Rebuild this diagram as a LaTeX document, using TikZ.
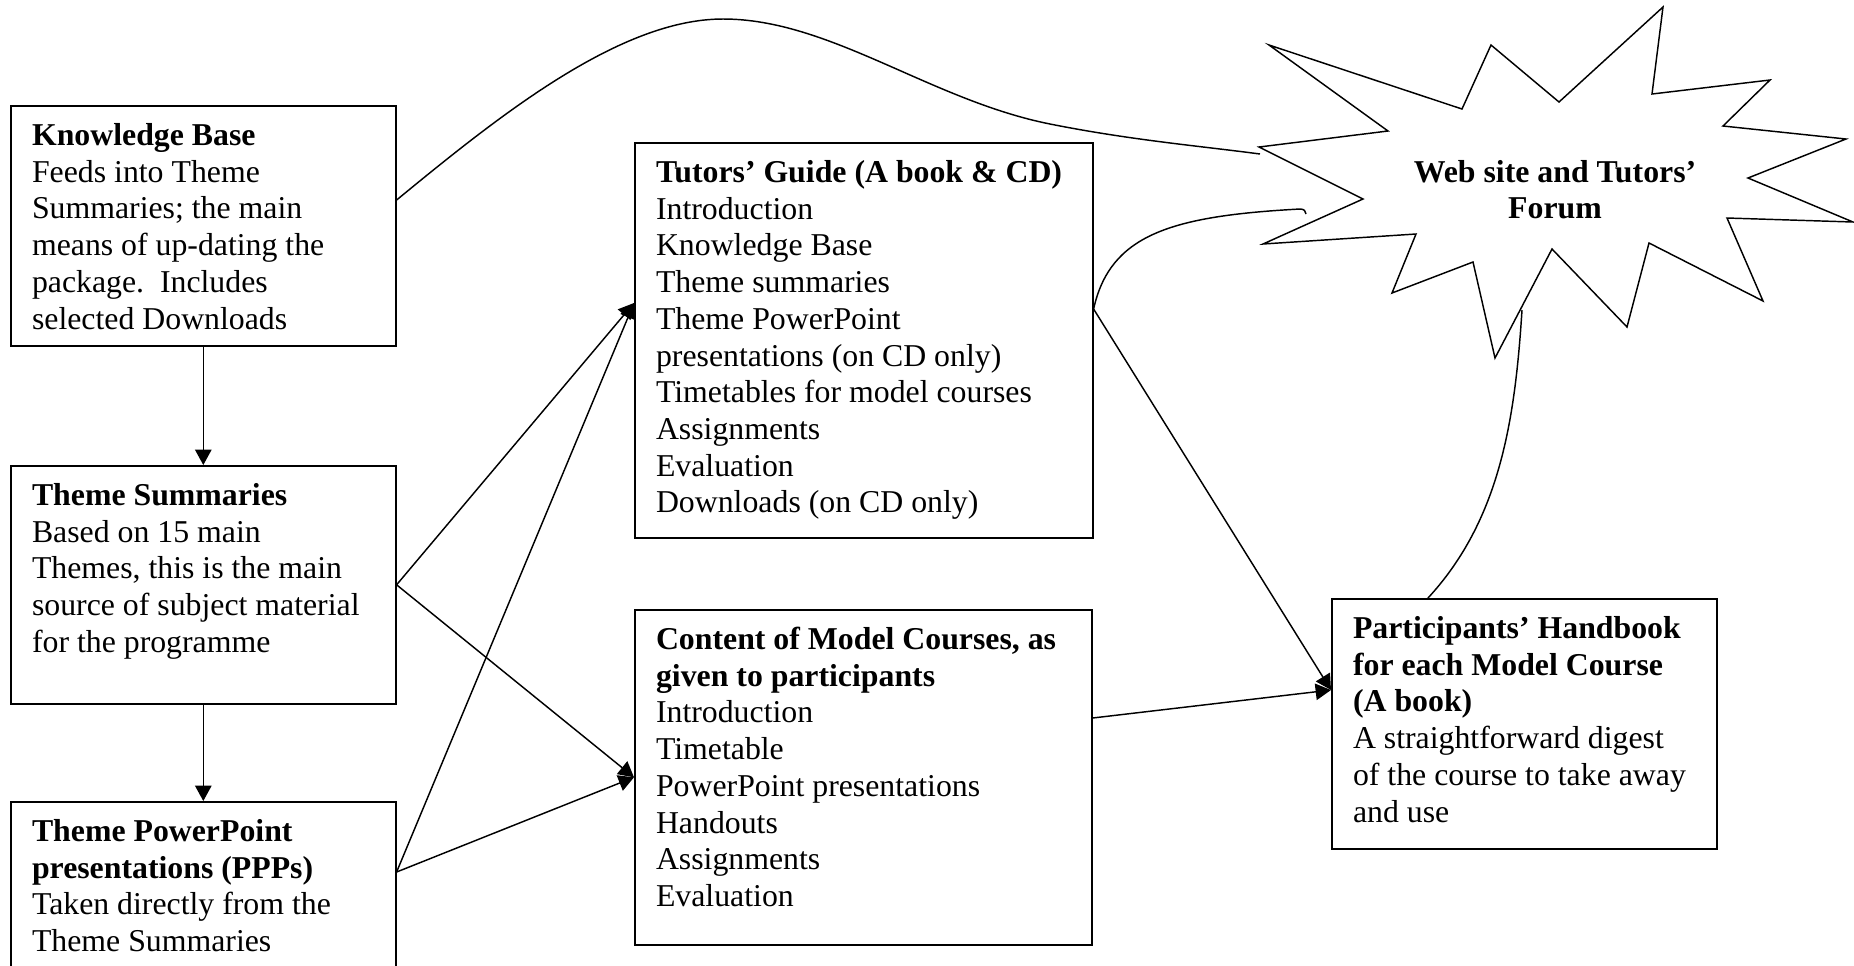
\documentclass[tikz,border=0pt]{standalone}
\usepackage{fontspec}
\setmainfont{Liberation Serif}
\usetikzlibrary{arrows.meta,calc}
\begin{document}
\begin{tikzpicture}[x=0.3774pt,y=-0.3774pt,
  box/.style={draw, line width=0.6pt, anchor=north west, inner sep=0pt},
  txt/.style={anchor=base west, inner sep=0pt, font=\fontsize{12pt}{13.85pt}\selectfont},
  conn/.style={line width=0.55pt},
  arr/.style={conn, -{Triangle[length=5.8pt,width=6.2pt]}}]
\useasboundingbox (0,0) rectangle (1854,965);

% boxes
\node[box, minimum width=145.30pt, minimum height=90.58pt] (kb) at (10,105) {};
\node[box, minimum width=145.30pt, minimum height=89.82pt] (ts) at (10,465) {};
\node[box, minimum width=145.30pt, minimum height=75.48pt] (ppp) at (10,801) {};
\node[box, minimum width=172.85pt, minimum height=149.07pt] (tg) at (634,142) {};
\node[box, minimum width=172.47pt, minimum height=126.43pt] (cm) at (634,609) {};
\node[box, minimum width=145.30pt, minimum height=94.35pt] (ph) at (1331,598) {};

% texts
\node[txt] (kbt) at (31.5,145.5) {\parbox[t]{136pt}{\raggedright\textbf{Knowledge Base}\\Feeds into Theme\\Summaries; the main\\means of up-dating the\\package.\ \ Includes\\selected Downloads}};
\node[txt] (tst) at (31.5,505.5) {\parbox[t]{136pt}{\raggedright\textbf{Theme Summaries}\\Based on 15 main\\Themes, this is the main\\source of subject material\\for the programme}};
\node[txt] (pppt) at (31.5,841.5) {\parbox[t]{136pt}{\raggedright\textbf{Theme PowerPoint}\\\textbf{presentations (PPPs)}\\Taken directly from the\\Theme Summaries}};
\node[txt] (tgt) at (655.5,182.5) {\parbox[t]{163pt}{\raggedright\textbf{Tutors' Guide (A book \& CD)}\\Introduction\\Knowledge Base\\Theme summaries\\Theme PowerPoint\\presentations (on CD only)\\Timetables for model courses\\Assignments\\Evaluation\\Downloads (on CD only)}};
\node[txt] (cmt) at (655.5,649.5) {\parbox[t]{162pt}{\raggedright\textbf{Content of Model Courses, as}\\\textbf{given to participants}\\Introduction\\Timetable\\PowerPoint presentations\\Handouts\\Assignments\\Evaluation}};
\node[txt] (pht) at (1352.5,638.5) {\parbox[t]{136pt}{\raggedright\textbf{Participants' Handbook}\\\textbf{for each Model Course}\\\textbf{(A book)}\\A straightforward digest\\of the course to take away\\and use}};

% starburst
\draw[conn] (1269,45) -- (1462,109) -- (1491,45) -- (1559,102) -- (1663,7) -- (1652,94)
  -- (1770,80) -- (1723,126) -- (1846,139) -- (1748,178) -- (1853,222) -- (1727,218)
  -- (1763,301) -- (1649,243) -- (1627,327) -- (1552,249) -- (1495,358) -- (1473,262)
  -- (1392,293) -- (1416,234) -- (1263,244) -- (1363,199) -- (1259,147) -- (1388,131) -- cycle;
\node[txt, anchor=base, font=\fontsize{12pt}{13.85pt}\selectfont\bfseries] (web) at (1555,182) {\parbox[t]{122pt}{\centering Web site and Tutors'\\Forum}};
\coordinate (sbA) at (1260,154);
\coordinate (sbC) at (1522,310);

% connectors
\coordinate (pppout) at ($(ppp.north east)+(0,71)$);
\coordinate (tgin) at ($(tg.north west)+(0,161)$);
\coordinate (tgout) at ($(tg.north east)+(0,167)$);
\coordinate (cmout) at ($(cm.north east)+(0,109)$);
\coordinate (phin) at ($(ph.north west)+(0,92)$);
\coordinate (kbout) at ($(kb.north east)+(0,95)$);
\coordinate (phtop) at ($(ph.north west)+(97,0)$);

\draw[arr] (kb.south) -- (ts.north);
\draw[arr] (ts.south) -- (ppp.north);
\draw[arr] (ts.east) -- (tgin);
\draw[arr] (ts.east) -- (cm.west);
\draw[arr] (pppout) -- (tgin);
\draw[arr] (pppout) -- (cm.west);
\draw[arr] (tgout) -- (phin);
\draw[arr] (cmout) -- (phin);

\draw[conn] (kbout) .. controls (500,115) and (620,19) .. (723,19)
  .. controls (830,19) and (930,100) .. (1050,124)
  .. controls (1130,140) and (1200,146) .. (sbA);
\draw[conn] (tgout) .. controls (1110,235) and (1170,216) .. (1300,209)
  .. controls (1304,209) and (1306,211) .. (1306,214);
\draw[conn] (phtop) .. controls (1500,520) and (1515,420) .. (sbC);
\end{tikzpicture}
\end{document}
